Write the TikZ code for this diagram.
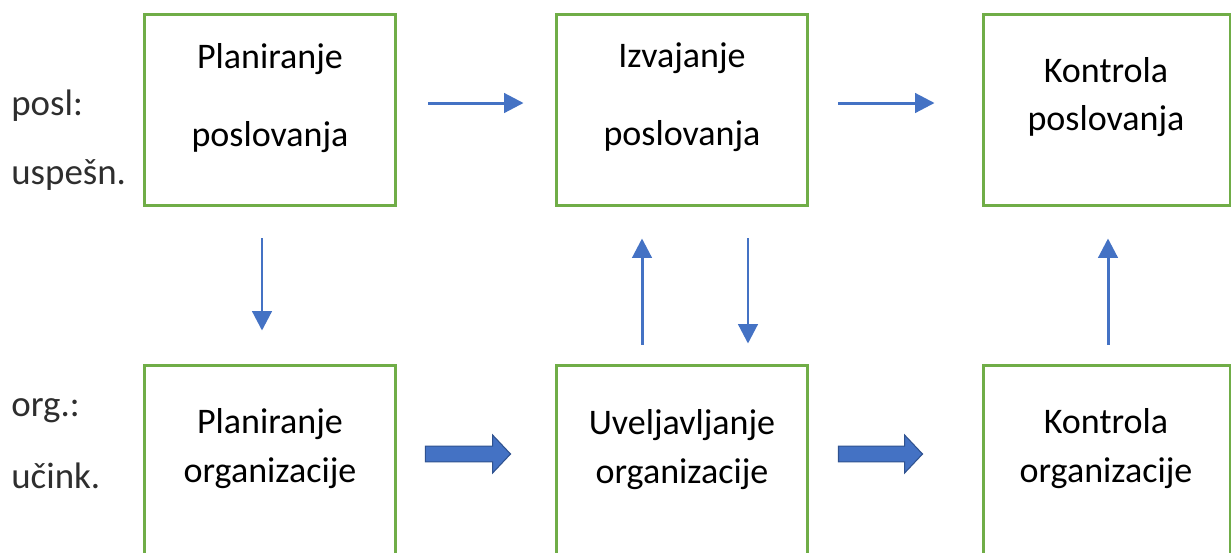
\documentclass[tikz,border=0pt]{standalone}
\usepackage{fontspec}
\setmainfont{Carlito}
\usetikzlibrary{arrows.meta,calc}
\definecolor{grn}{HTML}{70AD47}
\definecolor{blu}{HTML}{4472C4}
\definecolor{bluedge}{HTML}{2F528F}
\definecolor{lbl}{HTML}{2E2E2E}
\newcommand\blkarrow[2]{%
  \draw[blockarr] let \p1=(#1), \p2=(#2) in
    (\x1,{\y1+4.5pt}) -- ({\x2-10.2pt},{\y1+4.5pt}) -- ({\x2-10.2pt},{\y1+10.8pt})
    -- (\x2,\y1) -- ({\x2-10.2pt},{\y1-10.8pt}) -- ({\x2-10.2pt},{\y1-4.5pt})
    -- (\x1,{\y1-4.5pt}) -- cycle;}
\begin{document}
\begin{tikzpicture}[x=0.02cm,y=-0.02cm,
  box/.style={draw=grn,line width=1.7pt,fill=none,inner sep=0pt,minimum width=5.04cm},
  topbox/.style={box,minimum height=3.84cm},
  botbox/.style={box,minimum height=4.1cm},
  txt/.style={anchor=base,inner sep=0pt,font=\fontsize{20.5}{24}\selectfont,text=black},
  lab/.style={anchor=base west,inner sep=0pt,font=\fontsize{21}{24}\selectfont,text=lbl},
  thinarr/.style={draw=blu,line width=1.7pt,-{Triangle[length=11pt,width=11pt]}},
  blockarr/.style={draw=bluedge,line width=0.6pt,fill=blu}]
\useasboundingbox (0,0) rectangle (1231,552);
\clip (0,0) rectangle (1231,552);
% boxes
\node[topbox] (p1) at (270,110) {};
\node[topbox] (i1) at (682,110) {};
\node[topbox,minimum width=4.96cm] (k1) at (1107,110) {};
\node[botbox] (p2) at (270,467.5) {};
\node[botbox] (u2) at (682,467.5) {};
\node[botbox,minimum width=4.96cm] (k2) at (1107,467.5) {};
% box texts
\node[txt] (p1a) at (270,68) {Planiranje};
\node[txt] (p1b) at (270,146) {poslovanja};
\node[txt] (i1a) at (682,67) {Izvajanje};
\node[txt] (i1b) at (682,145) {poslovanja};
\node[txt] (k1a) at (1106,82) {Kontrola};
\node[txt] (k1b) at (1106,130) {poslovanja};
\node[txt] (p2a) at (270,433) {Planiranje};
\node[txt] (p2b) at (270,482) {organizacije};
\node[txt] (u2a) at (682,434) {Uveljavljanje};
\node[txt] (u2b) at (682,483) {organizacije};
\node[txt] (k2a) at (1106,433) {Kontrola};
\node[txt] (k2b) at (1106,482) {organizacije};
% left labels
\node[lab] (l1) at (11,115) {posl:};
\node[lab] (l2) at (11,184) {uspešn.};
\node[lab] (l3) at (11,416) {org.:};
\node[lab] (l4) at (11,488) {učink.};
% thin arrows
\draw[thinarr,shorten <=0.62cm,shorten >=0.62cm] ([yshift=0.14cm]p1.east) -- ([yshift=0.14cm]i1.west);
\draw[thinarr,shorten <=0.58cm,shorten >=0.94cm] ([yshift=0.14cm]i1.east) -- ([yshift=0.14cm]k1.west);
\draw[thinarr,shorten <=0.62cm,shorten >=0.66cm] ([xshift=-0.16cm]p1.south) -- ([xshift=-0.16cm]p2.north);
\draw[thinarr,shorten <=0.38cm,shorten >=0.62cm] ([xshift=-0.8cm]u2.north) -- ([xshift=-0.8cm]i1.south);
\draw[thinarr,shorten <=0.62cm,shorten >=0.4cm] ([xshift=1.32cm]i1.south) -- ([xshift=1.32cm]u2.north);
\draw[thinarr,shorten <=0.38cm,shorten >=0.62cm] ([xshift=0.02cm]k2.north) -- ([xshift=0.02cm]k1.south);
% block arrows
\coordinate (b1s) at ($(p2.east)+(28,-13.5)$);
\coordinate (b1e) at ($(u2.west)+(-44,-13.5)$);
\coordinate (b2s) at ($(u2.east)+(29,-13.5)$);
\coordinate (b2e) at ($(k2.west)+(-59,-13.5)$);
\blkarrow{b1s}{b1e}
\blkarrow{b2s}{b2e}
\end{tikzpicture}
\end{document}
